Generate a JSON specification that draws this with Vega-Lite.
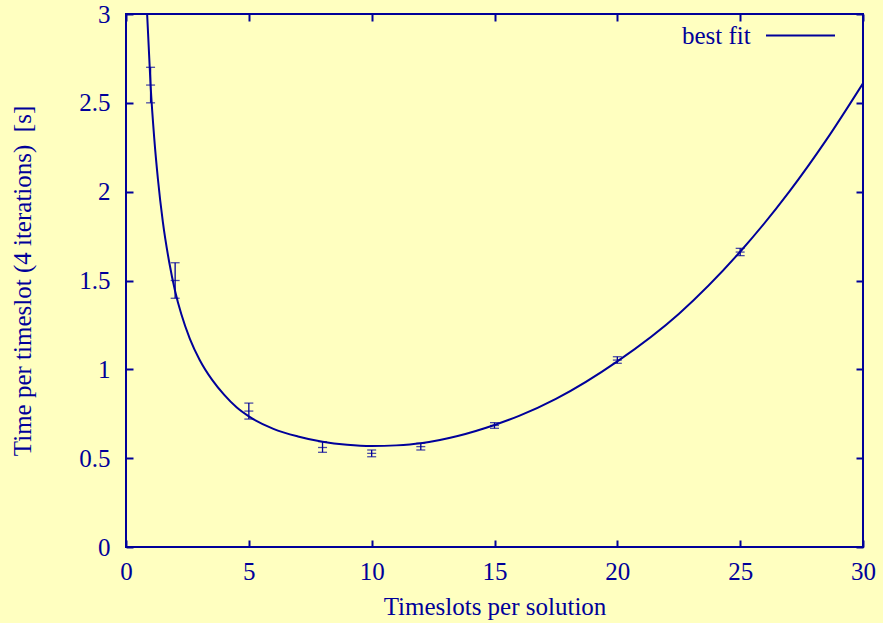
{
  "$schema": "https://vega.github.io/schema/vega-lite/v6.json",
  "autosize": "none",
  "width": 737,
  "height": 533,
  "padding": {"left": 126, "top": 14, "right": 20, "bottom": 76},
  "background": "#ffffc0",
  "config": {
    "view": {"stroke": "#00009a", "strokeWidth": 2, "fill": "#ffffc0"},
    "font": "Liberation Serif",
    "axis": {
      "domain": false,
      "grid": false,
      "labelFlush": false,
      "tickColor": "#00009a",
      "tickWidth": 2,
      "tickSize": -7,
      "labelColor": "#00009a",
      "labelFont": "Liberation Serif",
      "labelFontSize": 25,
      "titleColor": "#00009a",
      "titleFont": "Liberation Serif",
      "titleFontSize": 25,
      "titleFontWeight": "normal"
    },
    "legend": {
      "titleColor": "#00009a",
      "titleFont": "Liberation Serif",
      "titleFontSize": 25,
      "titleFontWeight": "normal"
    }
  },
  "datasets": {
    "curve": [
      {"x": 0.86, "y": 3.0},
      {"x": 1.0, "y": 2.6},
      {"x": 1.15, "y": 2.3},
      {"x": 1.3, "y": 2.07},
      {"x": 1.5, "y": 1.83},
      {"x": 1.75, "y": 1.61},
      {"x": 2.0, "y": 1.44},
      {"x": 2.25, "y": 1.311},
      {"x": 2.6, "y": 1.172},
      {"x": 3.0, "y": 1.053},
      {"x": 3.5, "y": 0.942},
      {"x": 4.0, "y": 0.856},
      {"x": 4.5, "y": 0.786},
      {"x": 5.0, "y": 0.735},
      {"x": 6.0, "y": 0.665},
      {"x": 7.0, "y": 0.622},
      {"x": 8.0, "y": 0.592},
      {"x": 9.0, "y": 0.575},
      {"x": 10.0, "y": 0.568},
      {"x": 11.0, "y": 0.572},
      {"x": 12.0, "y": 0.584},
      {"x": 13.5, "y": 0.625},
      {"x": 15.0, "y": 0.687},
      {"x": 16.0, "y": 0.738},
      {"x": 17.5, "y": 0.834},
      {"x": 20.0, "y": 1.045},
      {"x": 22.5, "y": 1.312},
      {"x": 25.0, "y": 1.662},
      {"x": 27.0, "y": 2.0},
      {"x": 28.5, "y": 2.29},
      {"x": 30.0, "y": 2.61}
    ],
    "measured": [
      {"x": 1, "y": 2.6, "ylo": 2.5, "yhi": 2.7},
      {"x": 2, "y": 1.5, "ylo": 1.4, "yhi": 1.6},
      {"x": 5, "y": 0.765, "ylo": 0.72, "yhi": 0.81},
      {"x": 8, "y": 0.56, "ylo": 0.533, "yhi": 0.593},
      {"x": 10, "y": 0.527, "ylo": 0.508, "yhi": 0.546},
      {"x": 12, "y": 0.565, "ylo": 0.546, "yhi": 0.584},
      {"x": 15, "y": 0.684, "ylo": 0.668, "yhi": 0.7},
      {"x": 20, "y": 1.052, "ylo": 1.034, "yhi": 1.071},
      {"x": 25, "y": 1.66, "ylo": 1.64, "yhi": 1.681}
    ]
  },
  "layer": [
    {
      "data": {"name": "curve"},
      "mark": {"type": "line", "interpolate": "monotone", "strokeWidth": 2, "clip": true},
      "encoding": {
        "x": {
          "field": "x", "type": "quantitative",
          "scale": {"domain": [0, 30], "nice": false, "zero": false},
          "axis": {"orient": "bottom", "values": [0, 5, 10, 15, 20, 25, 30], "title": "Timeslots per solution", "labelPadding": 19, "titlePadding": 10}
        },
        "y": {
          "field": "y", "type": "quantitative",
          "scale": {"domain": [0, 3], "nice": false, "zero": false},
          "axis": {"orient": "left", "values": [0, 0.5, 1, 1.5, 2, 2.5, 3], "format": "~g", "title": "Time per timeslot (4 iterations)\u00a0 [s]", "labelPadding": 23, "titlePadding": 43}
        },
        "color": {
          "datum": "best fit",
          "scale": {"range": ["#00009a"]},
          "legend": {
            "orient": "none",
            "legendX": 556,
            "legendY": -14,
            "title": "best fit",
            "titleOrient": "left",
            "titleAngle": 0,
            "titleAnchor": "middle",
            "titleBaseline": "line-top",
            "titleLineHeight": 34,
            "titlePadding": 14,
            "symbolType": "stroke",
            "symbolSize": 4761,
            "symbolStrokeWidth": 2,
            "labelExpr": "''",
            "labelOffset": 0,
            "padding": 0
          }
        }
      }
    },
    {
      "data": {"name": "measured"},
      "mark": {"type": "rule", "strokeWidth": 1.3, "color": "#00009a"},
      "encoding": {
        "x": {
          "field": "x", "type": "quantitative",
          "scale": {"domain": [0, 30], "nice": false, "zero": false},
          "axis": {"orient": "top", "values": [0, 5, 10, 15, 20, 25, 30], "labels": false, "title": null}
        },
        "y": {
          "field": "ylo", "type": "quantitative",
          "scale": {"domain": [0, 3], "nice": false, "zero": false},
          "axis": {"orient": "right", "values": [0, 0.5, 1, 1.5, 2, 2.5, 3], "labels": false, "title": null}
        },
        "y2": {"field": "yhi"}
      }
    },
    {
      "data": {"name": "measured"},
      "mark": {"type": "tick", "orient": "horizontal", "size": 9, "thickness": 1.3, "color": "#00009a"},
      "encoding": {
        "x": {"field": "x", "type": "quantitative", "axis": null},
        "y": {"field": "ylo", "type": "quantitative", "axis": null}
      }
    },
    {
      "data": {"name": "measured"},
      "mark": {"type": "tick", "orient": "horizontal", "size": 9, "thickness": 1.3, "color": "#00009a"},
      "encoding": {
        "x": {"field": "x", "type": "quantitative", "axis": null},
        "y": {"field": "yhi", "type": "quantitative", "axis": null}
      }
    },
    {
      "data": {"name": "measured"},
      "mark": {"type": "tick", "orient": "horizontal", "size": 9, "thickness": 1.3, "color": "#00009a"},
      "encoding": {
        "x": {"field": "x", "type": "quantitative", "axis": null},
        "y": {"field": "y", "type": "quantitative", "axis": null}
      }
    }
  ],
  "resolve": {"axis": {"x": "independent", "y": "independent"}}
}
